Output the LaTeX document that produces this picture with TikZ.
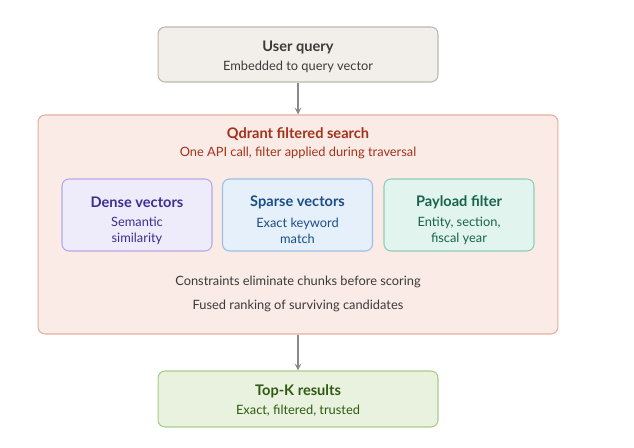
\documentclass[tikz,border=0pt]{standalone}
\usepackage{fontspec}
\setmainfont{Lato}
\usetikzlibrary{positioning}
\definecolor{qbg}{HTML}{F2EFEA}\definecolor{qdr}{HTML}{BDB7AE}
\definecolor{sbg}{HTML}{FAEBE6}\definecolor{sdr}{HTML}{E6AE9C}\definecolor{stx}{HTML}{A2321A}
\definecolor{dbg}{HTML}{EEEBFB}\definecolor{ddr}{HTML}{B3A9E6}\definecolor{dtx}{HTML}{3D2F8F}
\definecolor{pbg}{HTML}{E6F0FA}\definecolor{pdr}{HTML}{9BBFE2}\definecolor{ptx}{HTML}{1A4E86}
\definecolor{fbg}{HTML}{E2F4EE}\definecolor{fdr}{HTML}{8FCDB7}\definecolor{ftx}{HTML}{17634B}
\definecolor{gbg}{HTML}{E9F2DE}\definecolor{gdr}{HTML}{A9CB8A}\definecolor{gtx}{HTML}{2E5A12}
\definecolor{body}{HTML}{3A3A3A}
\definecolor{arr}{HTML}{8A8A8A}
\begin{document}
\begin{tikzpicture}[x=0.02cm,y=-0.02cm]
	\tikzstyle{box} = [rectangle,rounded corners=4pt,line width=0.6pt,inner sep=0pt,align=center];
	\tikzstyle{inner} = [box,minimum width=3cm,minimum height=1.44cm];
	\tikzstyle{ttl} = [font=\fontsize{8.3}{10}\selectfont\bfseries];
	\tikzstyle{sub} = [font=\fontsize{7.3}{8.8}\selectfont];
	\tikzstyle{flow} = [-stealth,draw=arr,line width=0.7pt];
	\useasboundingbox (0,0) rectangle (634,448);
	% boxes
	\node[box,fill=qbg,draw=qdr,minimum width=5.6cm,minimum height=1.1cm](query)at(298,54.5){};
	\node[box,fill=sbg,draw=sdr,minimum width=10.4cm,minimum height=4.38cm](search)at(298,224.5){};
	\node[inner,fill=dbg,draw=ddr](dense)at(137,215){};
	\node[inner,fill=pbg,draw=pdr](sparse)at(297.5,215){};
	\node[inner,fill=fbg,draw=fdr](payload)at(459,215){};
	\node[box,fill=gbg,draw=gdr,minimum width=5.6cm,minimum height=1.12cm](topk)at(298,399){};
	% texts
	\node[ttl,text=body]()at(298,47){User query};
	\node[sub,text=body]()at(298,67){Embedded to query vector};
	\node[ttl,text=stx]()at(298,134){Qdrant filtered search};
	\node[sub,text=stx]()at(298,153){One API call, filter applied during traversal};
	\node[ttl,text=dtx]()at(137,202){Dense vectors};
	\node[sub,text=dtx,align=center]()at(137,231){Semantic\\similarity};
	\node[ttl,text=ptx]()at(297.5,202){Sparse vectors};
	\node[sub,text=ptx,align=center]()at(297.5,231){Exact keyword\\match};
	\node[ttl,text=ftx]()at(459,202){Payload filter};
	\node[sub,text=ftx,align=center]()at(459,231){Entity, section,\\fiscal year};
	\node[sub,text=body]()at(298,282){Constraints eliminate chunks before scoring};
	\node[sub,text=body]()at(298,306){Fused ranking of surviving candidates};
	\node[ttl,text=gtx]()at(298,391){Top-K results};
	\node[sub,text=gtx]()at(298,411){Exact, filtered, trusted};
	% arrows
	\draw[flow] (query) -- (search);
	\draw[flow] (search) -- (topk);
\end{tikzpicture}
\end{document}
